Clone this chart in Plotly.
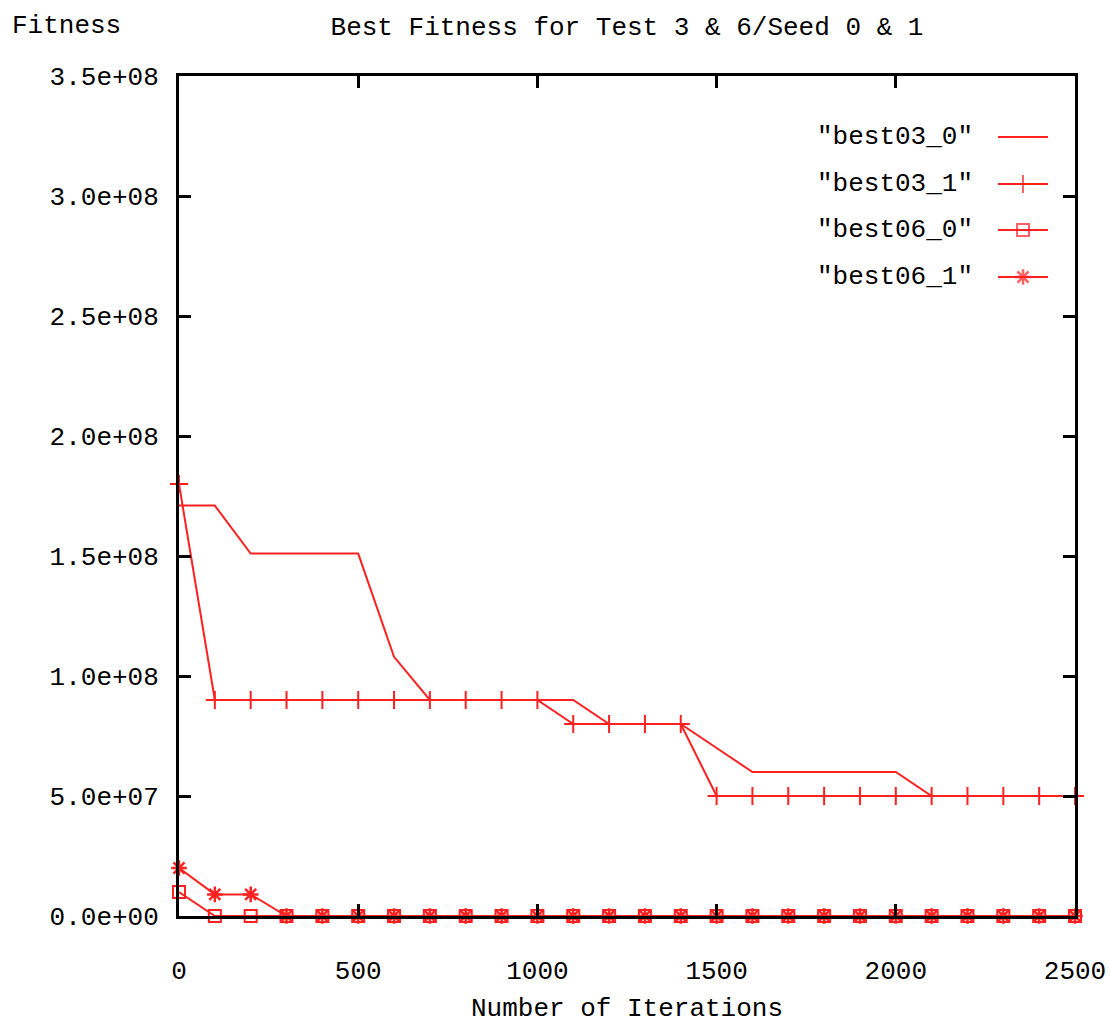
import plotly.graph_objects as go

iterations = [0, 100, 200, 300, 400, 500, 600, 700, 800, 900, 1000, 1100, 1200,
              1300, 1400, 1500, 1600, 1700, 1800, 1900, 2000, 2100, 2200, 2300, 2400, 2500]

best03_0 = [1.71e8, 1.71e8, 1.51e8, 1.51e8, 1.51e8, 1.51e8, 1.08e8, 0.9e8, 0.9e8, 0.9e8,
            0.9e8, 0.9e8, 0.8e8, 0.8e8, 0.8e8, 0.7e8, 0.6e8, 0.6e8, 0.6e8, 0.6e8,
            0.6e8, 0.5e8, 0.5e8, 0.5e8, 0.5e8, 0.5e8]
best03_1 = [1.8e8, 0.9e8, 0.9e8, 0.9e8, 0.9e8, 0.9e8, 0.9e8, 0.9e8, 0.9e8, 0.9e8,
            0.9e8, 0.8e8, 0.8e8, 0.8e8, 0.8e8, 0.5e8, 0.5e8, 0.5e8, 0.5e8, 0.5e8,
            0.5e8, 0.5e8, 0.5e8, 0.5e8, 0.5e8, 0.5e8]
best06_0 = [1.0e7, 0, 0, 0, 0, 0, 0, 0, 0, 0, 0, 0, 0, 0, 0, 0, 0, 0, 0, 0, 0, 0, 0, 0, 0, 0]
best06_1 = [2.0e7, 0.9e7, 0.9e7, 0, 0, 0, 0, 0, 0, 0, 0, 0, 0, 0, 0, 0, 0, 0, 0, 0, 0, 0, 0, 0, 0, 0]

series_names = ['"best03_0"', '"best03_1"', '"best06_0"', '"best06_1"']

x_tick_vals = [0, 500, 1000, 1500, 2000, 2500]
x_tick_text = ["0", "500", "1000", "1500", "2000", "2500"]
y_tick_vals = [0, 0.5e8, 1.0e8, 1.5e8, 2.0e8, 2.5e8, 3.0e8, 3.5e8]
y_tick_text = ["0.0e+00", "5.0e+07", "1.0e+08", "1.5e+08", "2.0e+08", "2.5e+08", "3.0e+08", "3.5e+08"]

RED = "#ff2020"
FONT = "Liberation Mono"
FS = 26

W, H = 1110, 1036
L, R, T, B = 179, 35, 76, 120
PW, PH = W - L - R, H - T - B

styles = [
    dict(mode="lines", marker=dict()),
    dict(mode="lines+markers", marker=dict(symbol="cross-thin", size=13,
                                            line=dict(color=RED, width=2), color=RED)),
    dict(mode="lines+markers", marker=dict(symbol="square-open", size=12,
                                            line=dict(color=RED, width=2), color=RED)),
    dict(mode="lines+markers", marker=dict(symbol="asterisk-open", size=13,
                                            line=dict(color=RED, width=2.5), color=RED)),
]

fig = go.Figure()
for name, ys, st in zip(series_names, [best03_0, best03_1, best06_0, best06_1], styles):
    fig.add_trace(go.Scatter(x=iterations, y=ys, name=name, mode=st["mode"],
                             line=dict(color=RED, width=2), marker=st["marker"],
                             showlegend=False, cliponaxis=False))

# manual gnuplot-style legend (text on left, key sample on right)
legend_rows_px = [137, 184, 230, 277]
text_right_px = 975
key_left_px, key_right_px = 998, 1048
for name, row, st in zip(series_names, legend_rows_px, styles):
    fig.add_annotation(text=name, xref="paper", yref="paper",
                       x=(text_right_px - L) / PW, y=1 - (row - T) / PH,
                       xanchor="right", yanchor="middle", showarrow=False,
                       font=dict(family=FONT, size=FS, color="black"))
    kx = [key_left_px - L, (key_left_px + key_right_px) / 2 - L, key_right_px - L]
    mk = dict(st["marker"])
    if mk:
        mk["size"] = [0, mk["size"], 0]
    fig.add_trace(go.Scatter(x=kx, y=[row - T] * 3, mode=st["mode"], xaxis="x2", yaxis="y2",
                             line=dict(color=RED, width=2), marker=mk, showlegend=False,
                             hoverinfo="skip"))

axis_common = dict(showline=True, linecolor="black", linewidth=3, mirror="ticks",
                   ticks="inside", ticklen=12, tickwidth=3, tickcolor="black",
                   showgrid=False, zeroline=False, automargin=False,
                   ticklabeloverflow="allow",
                   tickfont=dict(family=FONT, size=FS, color="black"))

fig.update_layout(
    width=W, height=H,
    margin=dict(l=L, r=R, t=T, b=B, autoexpand=False),
    paper_bgcolor="white", plot_bgcolor="white",
    title=dict(text="Best Fitness for Test 3 & 6/Seed 0 & 1", x=0.5, xref="paper",
               y=1 - 26 / H, yref="container", yanchor="middle", xanchor="center",
               font=dict(family=FONT, size=FS, color="black")),
    xaxis=dict(range=[0, 2500], tickvals=x_tick_vals, ticktext=x_tick_text,
               ticklabelstandoff=29,
               title=dict(text="Number of Iterations", standoff=12,
                          font=dict(family=FONT, size=FS, color="black")),
               **axis_common),
    yaxis=dict(range=[0, 3.5e8], tickvals=y_tick_vals, ticktext=y_tick_text,
               ticklabelstandoff=12, **axis_common),
    xaxis2=dict(overlaying="x", range=[0, PW], visible=False, showgrid=False),
    yaxis2=dict(overlaying="y", range=[PH, 0], visible=False, showgrid=False),
    showlegend=False,
)

fig.add_annotation(text="Fitness", xref="paper", yref="paper",
                   x=(10 - L) / PW, y=1 + (T - 26) / PH, xanchor="left", yanchor="middle",
                   showarrow=False, font=dict(family=FONT, size=FS, color="black"))

fig.write_html("out.html")
